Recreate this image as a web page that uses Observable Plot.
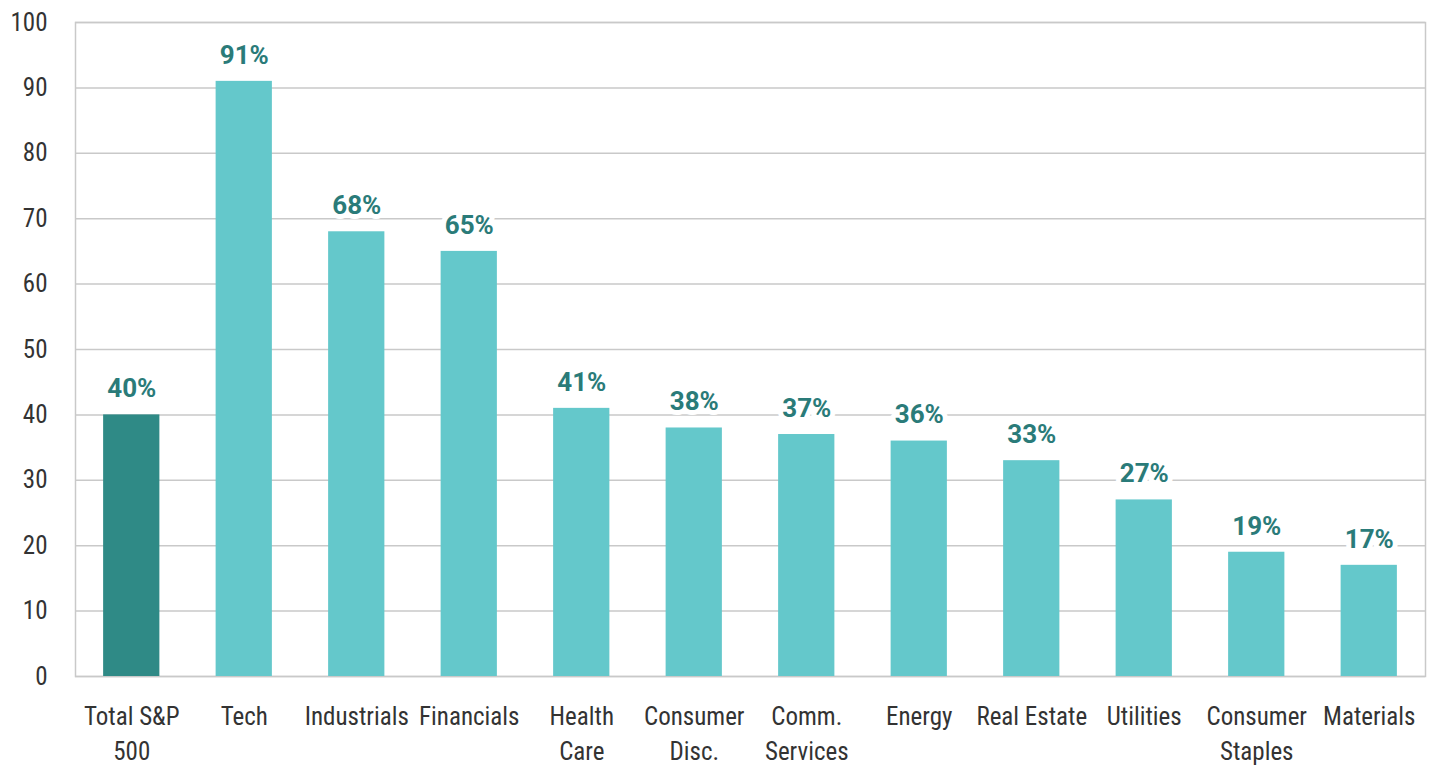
<!DOCTYPE html>
<html>
<head>
<meta charset="utf-8">
<script src="https://cdn.jsdelivr.net/npm/d3@7"></script>
<script src="https://cdn.jsdelivr.net/npm/@observablehq/plot@0.6"></script>
<style>
  html, body { margin: 0; padding: 0; background: #fff; }
  #chart svg { display: block; }
</style>
</head>
<body>
<div id="chart"></div>
<script>
const categories = ["Total S&P 500", "Tech", "Industrials", "Financials", "Health Care", "Consumer Disc.", "Comm. Services", "Energy", "Real Estate", "Utilities", "Consumer Staples", "Materials"];
const tickLabels = ["Total S&P\n500", "Tech", "Industrials", "Financials", "Health\nCare", "Consumer\nDisc.", "Comm.\nServices", "Energy", "Real Estate", "Utilities", "Consumer\nStaples", "Materials"];
const values = [40, 91, 68, 65, 41, 38, 37, 36, 33, 27, 19, 17];
const yTicks = [0, 10, 20, 30, 40, 50, 60, 70, 80, 90, 100];

const data = categories.map((c, i) => ({category: c, value: values[i], total: i === 0}));
const labelOf = new Map(categories.map((c, i) => [c, tickLabels[i]]));

const chart = Plot.plot({
  width: 1433,
  height: 766,
  marginLeft: 75,
  marginRight: 8,
  marginTop: 22,
  marginBottom: 90,
  style: {fontFamily: "'Liberation Sans Narrow', 'Arial Narrow', 'Roboto Condensed', Roboto, sans-serif", background: "#fff"},
  x: {domain: categories, paddingInner: 0.5, paddingOuter: 0.25, align: 0.5, round: false},
  y: {domain: [0, 100]},
  marks: [
    Plot.ruleY(yTicks, {stroke: "#c9c9c9", strokeWidth: 1.5, strokeOpacity: 1}),
    Plot.frame({stroke: "#c9c9c9", strokeWidth: 1.5}),
    Plot.barY(data, {x: "category", y: "value", fill: d => d.total ? "#2f8a86" : "#64c8cb"}),
    Plot.text(data, {x: "category", y: "value", text: d => d.value + "%", dy: -26, fill: "#2a7b79", stroke: "white", strokeWidth: 10, fontWeight: "bold", fontSize: 26, fontFamily: "Roboto, 'Liberation Sans', Arial, sans-serif"}),
    Plot.axisY({ticks: yTicks, tickSize: 0, tickPadding: 28, fontSize: 25, color: "#333", label: null}),
    Plot.axisX({tickSize: 0, tickPadding: 23, fontSize: 25, color: "#333", lineHeight: 1.42, tickFormat: c => labelOf.get(c), label: null})
  ]
});
document.getElementById("chart").append(chart);
</script>
</body>
</html>
